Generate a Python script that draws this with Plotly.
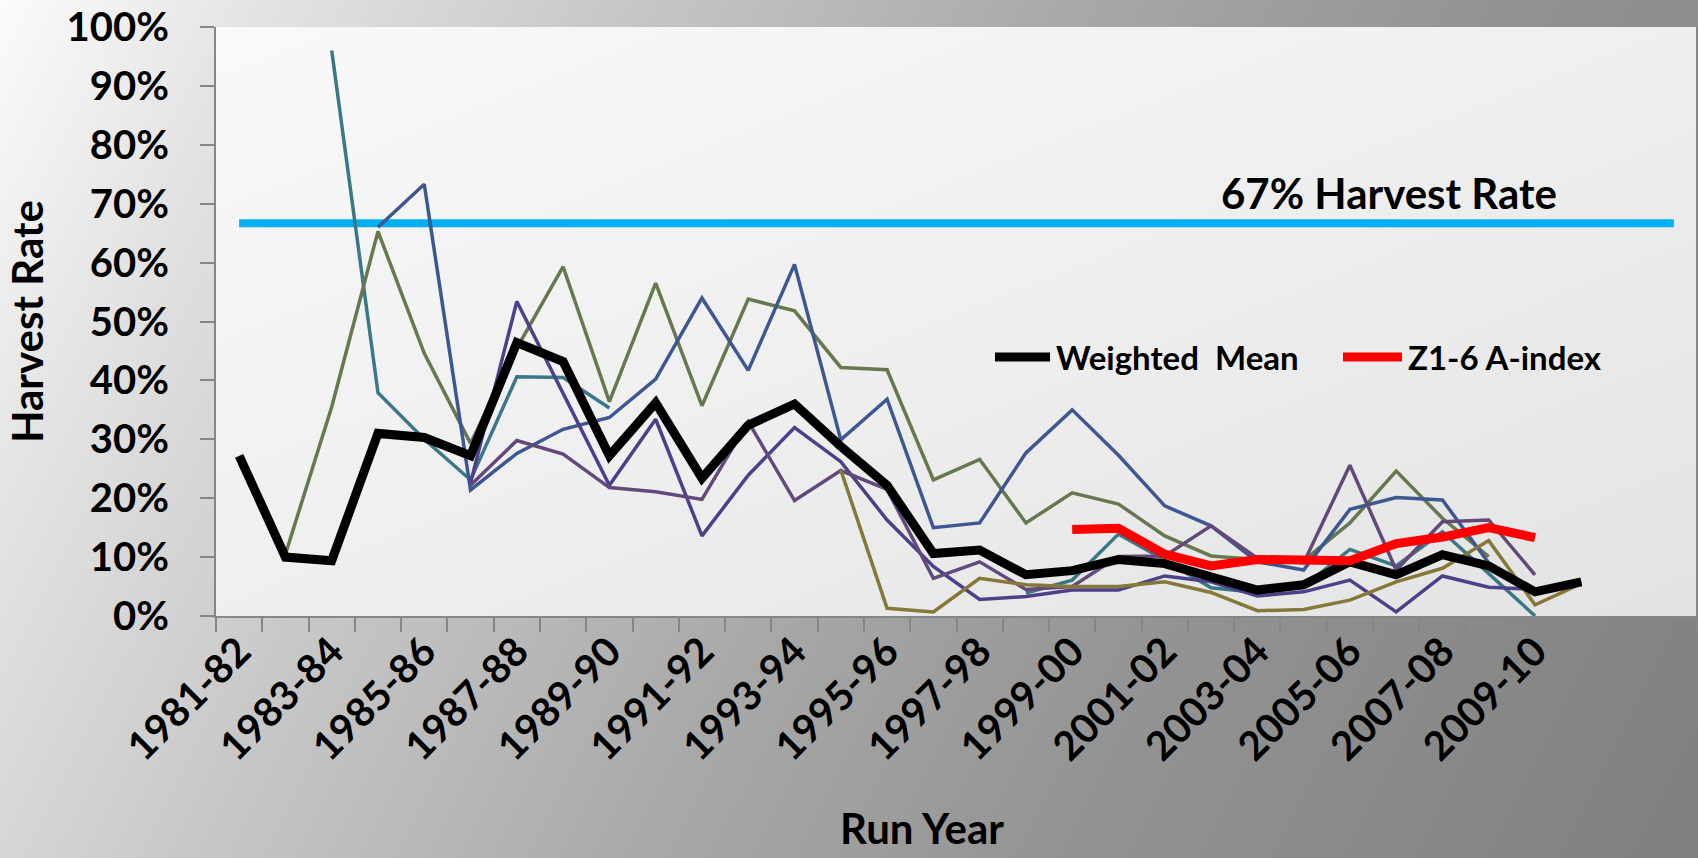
import base64
import plotly.graph_objects as go

# run years on the category axis
run_years = [
    "1981-82", "1982-83", "1983-84", "1984-85", "1985-86", "1986-87", "1987-88", "1988-89",
    "1989-90", "1990-91", "1991-92", "1992-93", "1993-94", "1994-95", "1995-96", "1996-97",
    "1997-98", "1998-99", "1999-00", "2000-01", "2001-02", "2002-03", "2003-04", "2004-05",
    "2005-06", "2006-07", "2007-08", "2008-09", "2009-10", "2010-11", "2011-12", "2012-13",
]
# only every other year is labelled, and nothing after 2009-10
tick_labels = [y if (i % 2 == 0 and i <= 28) else "" for i, y in enumerate(run_years)]

N = None
# harvest rates (%), one value per run year
teal = [N, N, 96.0, 37.9, 30.0, 23.1, 40.6, 40.5, 35.3, N, N, N, N, N, N, N,
        N, 3.9, 6.1, 13.9, 9.5, 4.8, 4.0, 5.0, 11.3, 8.5, 14.3, 7.2, 0.0, N, N, N]
green = [N, 10.5, 35.5, 65.3, 44.6, 29.3, 45.5, 59.3, 36.4, 56.5, 35.7, 53.8, 51.8, 42.2, 41.8, 23.1,
         26.6, 15.8, 20.9, 19.0, 13.6, 10.2, 9.6, 9.4, 15.8, 24.6, 16.6, 10.1, N, N, N, N]
blue = [N, N, N, 66.0, 73.3, 21.4, 27.6, 31.7, 33.7, 40.2, 54.0, 41.7, 59.7, 29.9, 36.8, 15.0,
        15.8, 27.7, 35.0, 27.3, 18.7, 15.3, 9.2, 7.8, 18.1, 20.1, 19.7, 9.0, N, N, N, N]
indigo = [N, N, N, N, N, 22.6, 53.4, 37.8, 22.2, 33.4, 13.6, 23.9, 32.0, 26.2, 16.3, 8.4,
          2.8, 3.3, 4.4, 4.4, 6.8, 5.8, 3.4, 4.1, 6.1, 0.7, 6.8, 4.9, 4.5, 5.9, N, N]
purple = [N, N, N, N, N, 22.2, 29.8, 27.5, 21.8, 21.1, 19.8, 33.0, 19.6, 24.7, 21.5, 6.4,
          9.2, 4.5, 5.0, 10.1, 10.2, 15.3, 9.8, 9.0, 25.6, 7.8, 16.0, 16.3, 7.0, N, N, N]
khaki = [N, N, N, N, N, N, N, N, N, N, N, N, N, 24.8, 1.3, 0.7,
         6.4, 5.3, 5.0, 5.0, 5.8, 4.0, 0.9, 1.1, 2.7, 5.8, 8.1, 12.8, 1.9, 5.5, N, N]
weighted_mean = [27.2, 10.0, 9.4, 31.0, 30.3, 27.2, 46.4, 43.2, 27.2, 36.2, 23.4, 32.4, 36.0, 28.8, 22.2, 10.6,
                 11.2, 7.0, 7.7, 9.6, 8.9, 6.7, 4.4, 5.3, 9.2, 7.0, 10.4, 8.5, 4.1, 5.8, N, N]
a_index = [N, N, N, N, N, N, N, N, N, N, N, N, N, N, N, N,
           N, N, 14.7, 14.9, 10.5, 8.5, 9.6, 9.4, 9.4, 12.3, 13.4, 15.0, 13.3, N, N, N]
target_rate = [66.7] * len(run_years)

W, H = 1698, 858
L, R, T, B = 216, 1, 27, 242
PW, PH = W - L - R, H - T - B
FONT = "Lato"


def svg_uri(svg):
    return "data:image/svg+xml;base64," + base64.b64encode(svg.encode()).decode()


slide_bg = svg_uri(
    f'<svg xmlns="http://www.w3.org/2000/svg" width="{W}" height="{H}">'
    '<defs><linearGradient id="g" gradientUnits="userSpaceOnUse" x1="0" y1="0" x2="1698" y2="858">'
    '<stop offset="0" stop-color="#fbfbfb"/><stop offset="0.12" stop-color="#e4e4e4"/>'
    '<stop offset="0.3" stop-color="#c6c6c6"/><stop offset="0.5" stop-color="#a9a9a9"/>'
    '<stop offset="0.7" stop-color="#939393"/><stop offset="1" stop-color="#7f7f7f"/>'
    f'</linearGradient></defs><rect width="{W}" height="{H}" fill="url(#g)"/></svg>'
)
plot_bg = svg_uri(
    f'<svg xmlns="http://www.w3.org/2000/svg" width="{PW}" height="{PH}">'
    '<defs><linearGradient id="p" x1="0" y1="0" x2="1" y2="1">'
    '<stop offset="0" stop-color="#f9f9f9"/><stop offset="0.5" stop-color="#efefef"/>'
    '<stop offset="1" stop-color="#e3e3e3"/>'
    f'</linearGradient></defs><rect width="{PW}" height="{PH}" fill="url(#p)"/></svg>'
)

fig = go.Figure()

fig.add_trace(go.Scatter(x=run_years, y=target_rate, mode="lines",
                         line=dict(color="#00b0f0", width=8), showlegend=False))

thin = [
    (teal, "#3a7887"), (green, "#66784f"), (blue, "#3d5790"),
    (indigo, "#4e3f8a"), (purple, "#62497a"), (khaki, "#857838"),
]
for vals, col in thin:
    fig.add_trace(go.Scatter(x=run_years, y=vals, mode="lines",
                             line=dict(color=col, width=3.5), showlegend=False))

fig.add_trace(go.Scatter(x=run_years, y=weighted_mean, mode="lines", name="Weighted  Mean",
                         line=dict(color="black", width=9), showlegend=False))
fig.add_trace(go.Scatter(x=run_years, y=a_index, mode="lines", name="Z1-6 A-index",
                         line=dict(color="#ff0000", width=9), showlegend=False))


def px_x(p):
    return (p - L) / PW


def px_y(p):
    return (T + PH - p) / PH


# hand-drawn legend inside the plot
legend_y = px_y(357)
for x0, x1, col, label in [(995, 1050, "black", "Weighted  Mean"), (1343, 1402, "#ff0000", "Z1-6 A-index")]:
    fig.add_shape(type="line", xref="paper", yref="paper", x0=px_x(x0), x1=px_x(x1),
                  y0=legend_y, y1=legend_y, line=dict(color=col, width=9))
    fig.add_annotation(xref="paper", yref="paper", x=px_x(x1 + 4), y=legend_y, text=label,
                       showarrow=False, xanchor="left", yanchor="middle",
                       font=dict(family=FONT, size=33, color="black", weight="bold"))

# thin frame on the right edge of the plot area
fig.add_shape(type="line", xref="paper", yref="paper", x0=1, x1=1, y0=0, y1=1,
              line=dict(color="#868686", width=2))

fig.add_annotation(xref="paper", yref="paper", x=px_x(1389), y=px_y(193), text="67% Harvest Rate",
                   showarrow=False, xanchor="center", yanchor="middle",
                   font=dict(family=FONT, size=42, color="black", weight="bold"))

axis_font = dict(family=FONT, size=40, color="black", weight="bold")
title_font = dict(family=FONT, size=42, color="black", weight="bold")

# x-axis title sits left of the plot centre in the original
fig.add_annotation(xref="paper", yref="paper", x=px_x(922), y=px_y(828), text="Run Year",
                   showarrow=False, xanchor="center", yanchor="middle", font=title_font)

fig.update_layout(
    width=W, height=H,
    margin=dict(l=L, r=R, t=T, b=B, autoexpand=False),
    paper_bgcolor="#a9a9a9",
    plot_bgcolor="rgba(0,0,0,0)",
    showlegend=False,
    images=[
        dict(source=slide_bg, xref="paper", yref="paper", x=-L / PW, y=1 + T / PH,
             sizex=W / PW, sizey=H / PH, xanchor="left", yanchor="top",
             sizing="stretch", layer="below"),
        dict(source=plot_bg, xref="paper", yref="paper", x=0, y=1, sizex=1, sizey=1,
             xanchor="left", yanchor="top", sizing="stretch", layer="below"),
    ],
    xaxis=dict(
        type="category", categoryorder="array", categoryarray=run_years,
        range=[-0.5, len(run_years) - 0.5],
        tickmode="array", tickvals=run_years, ticktext=tick_labels,
        tickson="boundaries", ticks="outside", ticklen=14, tickwidth=2, tickcolor="#868686",
        tickangle=-45, tickfont=axis_font, ticklabelstandoff=-6,
        showline=True, linecolor="#868686", linewidth=2, showgrid=False, zeroline=False,
    ),
    yaxis=dict(
        range=[0, 100], dtick=10, ticksuffix="%",
        ticks="outside", ticklen=14, tickwidth=2, tickcolor="#868686",
        tickfont=axis_font, ticklabelstandoff=23,
        showline=True, linecolor="#868686", linewidth=2, showgrid=False, zeroline=False,
        title=dict(text="Harvest Rate", font=title_font, standoff=10),
    ),
)

fig.write_html("out.html", config={"displayModeBar": False},
               post_script="document.body.style.margin='0';")
